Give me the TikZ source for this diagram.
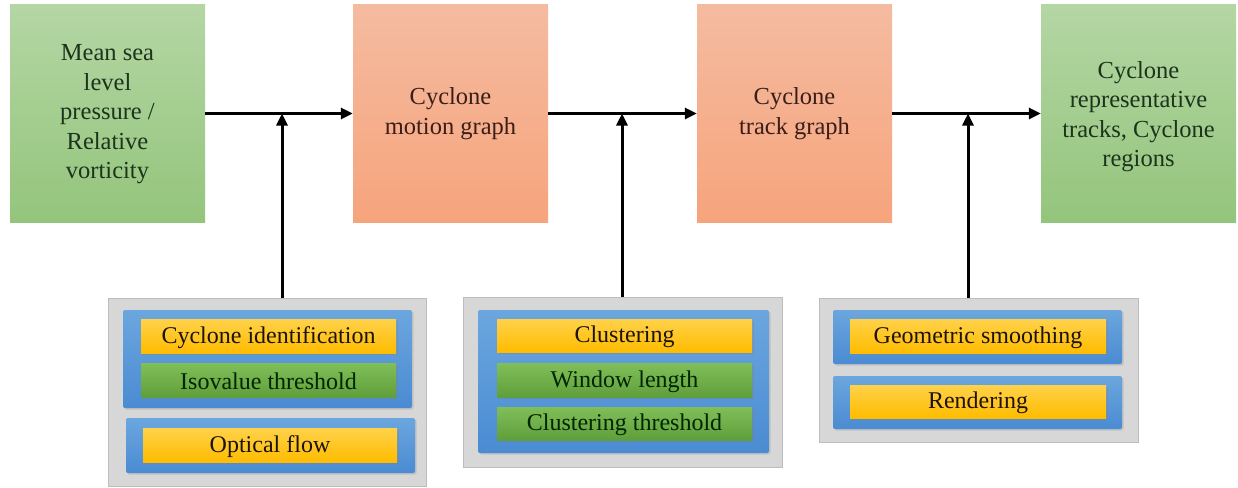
\documentclass[tikz,border=0pt]{standalone}
\usepackage{fontspec}
\setmainfont{Liberation Serif}
\usetikzlibrary{arrows.meta,fit,shadows}
\definecolor{gtop}{HTML}{B4D6A4}
\definecolor{gbot}{HTML}{94C57C}
\definecolor{stop}{HTML}{F5BBA0}
\definecolor{sbot}{HTML}{F6A47C}
\definecolor{gtext}{HTML}{1C341C}
\definecolor{stext}{HTML}{3A1E18}
\definecolor{panelfill}{HTML}{D7D7D7}
\definecolor{paneldraw}{HTML}{BDBDBD}
\definecolor{btop}{HTML}{6BA6DE}
\definecolor{bbot}{HTML}{4A8BD2}
\definecolor{ytop}{HTML}{FFD24A}
\definecolor{ybot}{HTML}{FFBC00}
\definecolor{ltop}{HTML}{80BE58}
\definecolor{lbot}{HTML}{5F9F3B}
\tikzset{
  mainbox/.style={inner sep=0pt},
  inbox/.style={mainbox, top color=gtop, bottom color=gbot},
  procbox/.style={mainbox, top color=stop, bottom color=sbot},
  maintext/.style={font=\fontsize{24.5}{29.5}\selectfont, align=center},
  panel/.style={inner sep=0pt, fill=panelfill, draw=paneldraw, line width=0.8pt},
  bluebox/.style={inner sep=0pt, rounded corners=2pt, top color=btop, bottom color=bbot,
    drop shadow={opacity=0.25, shadow xshift=1.5pt, shadow yshift=-1.5pt}},
  ybox/.style={inner sep=0pt, top color=ytop, bottom color=ybot,
    drop shadow={opacity=0.3, shadow xshift=1.5pt, shadow yshift=-1.5pt}},
  lbox/.style={ybox, top color=ltop, bottom color=lbot},
  ytext/.style={font=\fontsize{24}{26}\selectfont, text=black!85!brown, yshift=-1.5pt},
  ltext/.style={font=\fontsize{24}{26}\selectfont, text=black!85!green, yshift=-1.5pt},
  flow/.style={line width=3pt, -{Triangle[length=12pt,width=11pt]}}
}
\begin{document}
\begin{tikzpicture}[x=1pt,y=-1pt]
\useasboundingbox (0,0) rectangle (1238,487);
% main boxes
\node[inbox, fit={(10,5) (205,222)}] (b1) {};
\node[maintext, text=gtext] at (b1.center) [yshift=-1pt] {Mean sea\\level\\pressure /\\Relative\\vorticity};
\node[procbox, fit={(353,5) (548,222)}] (b2) {};
\node[maintext, text=stext] at (b2.center) {Cyclone\\motion graph};
\node[procbox, fit={(697,5) (892,222)}] (b3) {};
\node[maintext, text=stext] at (b3.center) {Cyclone\\track graph};
\node[inbox, fit={(1041,5) (1236,222)}] (b4) {};
\node[maintext, text=gtext] at (b4.center) [yshift=-3pt] {Cyclone\\representative\\tracks, Cyclone\\regions};
% junctions
\coordinate (j1) at (282,113.5);
\coordinate (j2) at (622,113.5);
\coordinate (j3) at (968,113.5);
% panels
\node[panel, fit={(108,298) (426,486)}] (p1) {};
\node[bluebox, fit={(123,310) (412,408)}] (p1a) {};
\node[ybox, fit={(141,319) (396,353)}] (t11) {};
\node[ytext] at (t11.center) {Cyclone identification};
\node[lbox, fit={(141,363) (396,397)}] (t12) {};
\node[ltext] at (t12.center) {Isovalue threshold};
\node[bluebox, fit={(126,418) (415,473)}] (p1b) {};
\node[ybox, fit={(143,428) (397,462)}] (t13) {};
\node[ytext] at (t13.center) {Optical flow};
%
\node[panel, fit={(463,297) (782,467)}] (p2) {};
\node[bluebox, fit={(478,310) (769,453)}] (p2a) {};
\node[ybox, fit={(497,319) (752,352)}] (t21) {};
\node[ytext] at (t21.center) {Clustering};
\node[lbox, fit={(497,363) (752,397)}] (t22) {};
\node[ltext] at (t22.center) {Window length};
\node[lbox, fit={(497,407) (752,440)}] (t23) {};
\node[ltext] at (t23.center) {Clustering threshold};
%
\node[panel, fit={(819,298) (1138,442)}] (p3) {};
\node[bluebox, fit={(833,310) (1122,364)}] (p3a) {};
\node[ybox, fit={(850,319) (1106,353)}] (t31) {};
\node[ytext] at (t31.center) {Geometric smoothing};
\node[bluebox, fit={(833,376) (1122,429)}] (p3b) {};
\node[ybox, fit={(850,385) (1106,418)}] (t32) {};
\node[ytext] at (t32.center) {Rendering};
% connectors
\draw[flow] (b1.east) -- (b2.west);
\draw[flow] (b2.east) -- (b3.west);
\draw[flow] (b3.east) -- (b4.west);
\draw[flow] (p1.north -| j1) -- (j1);
\draw[flow] (p2.north -| j2) -- (j2);
\draw[flow] (p3.north -| j3) -- (j3);
\end{tikzpicture}
\end{document}
